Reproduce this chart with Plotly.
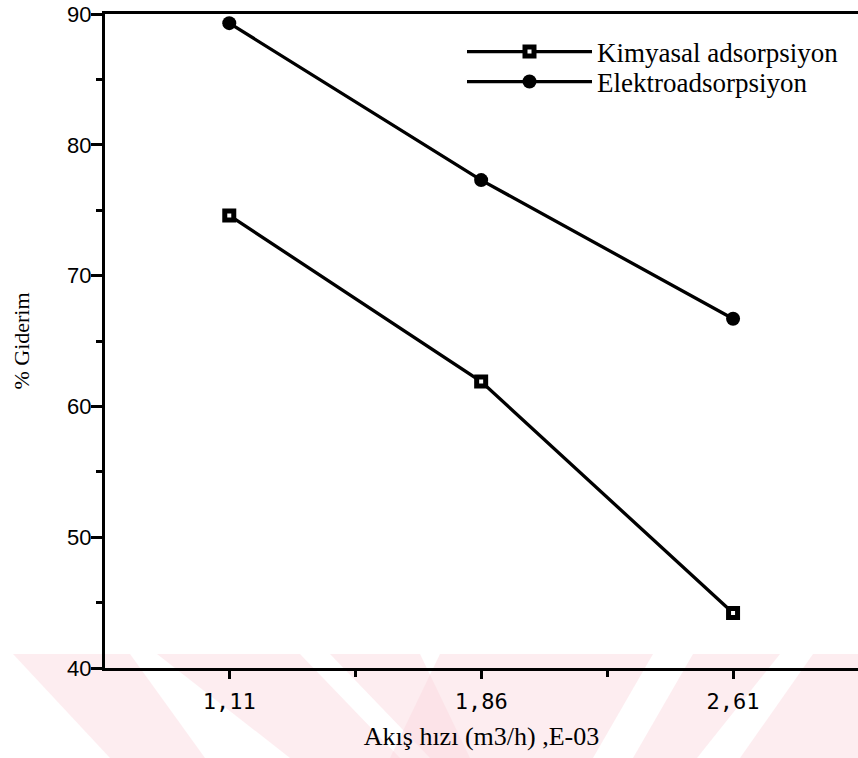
import plotly.graph_objects as go

# ---- data ----
flow_rates = [1.11, 1.86, 2.61]
tick_labels = ["1,11", "1,86", "2,61"]
kimyasal = [74.6, 61.9, 44.2]
elektro = [89.3, 77.3, 66.7]
y_ticks = [40, 50, 60, 70, 80, 90]

W, H = 858, 758
L, R, T, B = 105, 0, 14, 758 - 668
PW, PH = W - L - R, H - T - B

def px(x):  # page pixel -> paper
    return (x - L) / PW

def py(y):
    return (H - B - y) / PH

SERIF = "Liberation Serif, Times New Roman, serif"

fig = go.Figure()

fig.add_trace(go.Scatter(
    x=flow_rates, y=kimyasal, name="Kimyasal adsorpsiyon",
    mode="lines+markers", legend="legend",
    line=dict(color="black", width=3.3),
    marker=dict(symbol="square", size=9, color="white",
                line=dict(color="black", width=5)),
))
fig.add_trace(go.Scatter(
    x=flow_rates, y=elektro, name="Elektroadsorpsiyon",
    mode="lines+markers", legend="legend2",
    line=dict(color="black", width=3.3),
    marker=dict(symbol="circle", size=14, color="black"),
))

# faint watermark band at the bottom (background decoration)
pink = "rgba(250,215,222,0.45)"
top_y, bot_y = 654, 758
stripes = [
    (13, 130, 205, 110),
    (157, 300, 400, 290),
    (330, 420, 470, 430),
    (440, 653, 593, 390),
    (693, 780, 697, 633),
    (813, 900, 900, 740),
]
shapes = []
for a, b, c, d in stripes:
    path = (f"M {px(a)},{py(top_y)} L {px(b)},{py(top_y)} "
            f"L {px(c)},{py(bot_y)} L {px(d)},{py(bot_y)} Z")
    shapes.append(dict(type="path", xref="paper", yref="paper", path=path,
                       fillcolor=pink, line=dict(width=0), layer="below"))

legend_style = dict(
    xanchor="left", yanchor="middle",
    bgcolor="rgba(0,0,0,0)",
    font=dict(family=SERIF, size=27, color="black"),
    itemwidth=125,
)

fig.update_layout(
    width=W, height=H,
    margin=dict(l=L, r=R, t=T, b=B, autoexpand=False),
    paper_bgcolor="white", plot_bgcolor="white",
    shapes=shapes,
    showlegend=True,
    legend=dict(x=px(462), y=py(52), **legend_style),
    legend2=dict(x=px(462), y=py(82), **legend_style),
    xaxis=dict(
        range=[0.74, 2.982], automargin=False,
        tickmode="array", tickvals=flow_rates, ticktext=tick_labels,
        ticks="outside", ticklen=8, tickwidth=3, tickcolor="black",
        ticklabelstandoff=4,
        minor=dict(tickmode="array", tickvals=[1.485, 2.235], ticks="outside",
                   ticklen=6, tickwidth=3, tickcolor="black"),
        showline=True, linecolor="black", linewidth=3, mirror=True,
        showgrid=False, zeroline=False,
        tickfont=dict(family="DejaVu Sans Mono, monospace", size=22, color="black"),
        title=dict(text="Akış hızı (m3/h) ,E-03", standoff=14,
                   font=dict(family=SERIF, size=26, color="black")),
    ),
    yaxis=dict(
        range=[40, 90], automargin=False,
        tickmode="array", tickvals=y_ticks,
        ticks="outside", ticklen=11, tickwidth=3, tickcolor="black",
        ticklabelstandoff=-5, ticklabeloverflow="allow",
        minor=dict(tickmode="array", tickvals=[45, 55, 65, 75, 85], ticks="outside",
                   ticklen=6, tickwidth=3, tickcolor="black"),
        showline=True, linecolor="black", linewidth=3, mirror=False,
        showgrid=False, zeroline=False,
        tickfont=dict(family="Liberation Sans, Arial, sans-serif", size=22, color="black"),
        title=dict(text="% Giderim", standoff=32,
                   font=dict(family=SERIF, size=22, color="black")),
    ),
)

fig.write_html("out.html", config={"displayModeBar": False},
               post_script="document.body.style.margin='0';document.body.style.padding='0';")
